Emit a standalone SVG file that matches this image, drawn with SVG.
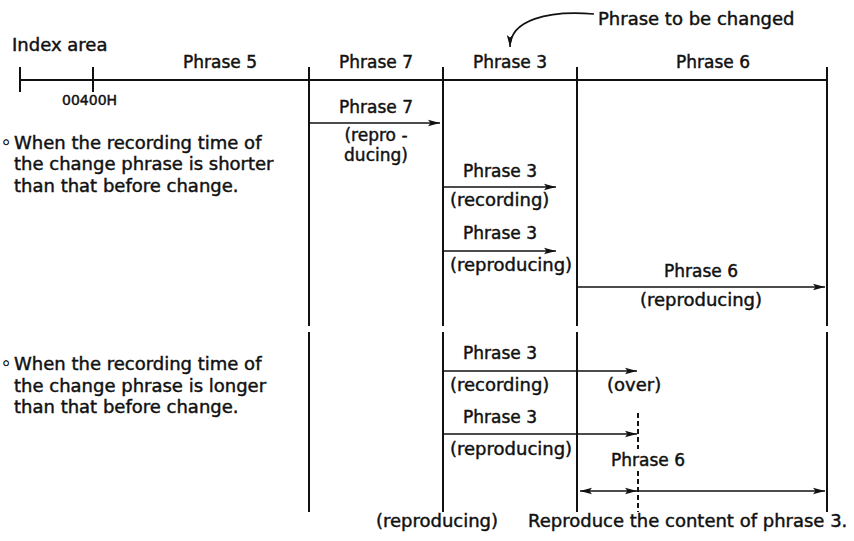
<svg xmlns="http://www.w3.org/2000/svg" width="854" height="541" viewBox="0 0 854 541">
<style>
  text { font-family: "DejaVu Sans", "Liberation Sans", sans-serif; font-size: 18px; fill: #111; stroke: #111; stroke-width: 0.45; }
  .ph { font-size: 17px; text-anchor: middle; }
  .mid { text-anchor: middle; }
  .tight { font-size: 17px; text-anchor: middle; }
  .small { font-size: 14px; }
  .axis { stroke: #111; stroke-width: 2; fill: none; }
  .arr { stroke: #111; stroke-width: 1.6; fill: none; marker-end: url(#ah); }
  .dash { stroke: #111; stroke-width: 2; stroke-dasharray: 5 3; fill: none; }
</style>
<defs>
  <marker id="ah" viewBox="0 0 12 8" refX="12" refY="4" markerWidth="12" markerHeight="8" markerUnits="userSpaceOnUse" orient="auto-start-reverse">
    <path d="M0,0.8 L12,4 L0,7.2 L2.5,4 z" fill="#111"/>
  </marker>
</defs>
<rect width="854" height="541" fill="#fff"/>

<g id="axis">
  <line class="axis" x1="20" y1="80" x2="827" y2="80"/>
  <line class="axis" x1="20" y1="67" x2="20" y2="92"/>
  <line class="axis" x1="93" y1="67" x2="93" y2="92"/>
  <path class="axis" d="M309,67 V326 M309,332 V512"/>
  <path class="axis" d="M443,67 V326 M443,332 V512"/>
  <path class="axis" d="M577,67 V326 M577,332 V512"/>
  <path class="axis" d="M827,67 V326 M827,332 V512"/>
</g>

<g id="header-labels">
  <text x="12" y="51">Index area</text>
  <text class="ph" x="220" y="68">Phrase 5</text>
  <text class="ph" x="376" y="68">Phrase 7</text>
  <text class="ph" x="510" y="68">Phrase 3</text>
  <text class="ph" x="713" y="68">Phrase 6</text>
  <text class="small" x="62" y="105">00400H</text>
  <text x="598" y="25">Phrase to be changed</text>
</g>

<g id="case-shorter">
  <text x="1" y="149">◦<tspan x="14">When the recording time of</tspan></text>
  <text x="14" y="170">the change phrase is shorter</text>
  <text x="14" y="192">than that before change.</text>
  <text class="ph" x="376" y="113">Phrase 7</text>
  <text class="tight" x="376" y="141">(repro -</text>
  <text class="tight" x="376" y="161">ducing)</text>
  <text class="ph" x="500" y="177">Phrase 3</text>
  <text x="450" y="206">(recording)</text>
  <text class="ph" x="500" y="239">Phrase 3</text>
  <text x="450" y="271">(reproducing)</text>
  <text class="ph" x="701" y="277">Phrase 6</text>
  <text class="mid" x="701" y="306">(reproducing)</text>
</g>

<g id="case-longer">
  <text x="1" y="370">◦<tspan x="14">When the recording time of</tspan></text>
  <text x="14" y="392">the change phrase is longer</text>
  <text x="14" y="413">than that before change.</text>
  <text class="ph" x="500" y="359">Phrase 3</text>
  <text x="450" y="391">(recording)</text>
  <text x="607" y="391">(over)</text>
  <text class="ph" x="500" y="423">Phrase 3</text>
  <text x="450" y="455">(reproducing)</text>
  <text class="ph" x="648" y="466">Phrase 6</text>
  <text class="mid" x="437" y="527">(reproducing)</text>
  <text x="528" y="527">Reproduce the content of phrase 3.</text>
</g>

<g id="connectors">
  <path class="arr" d="M594,14 C548,10 510,20 510,47"/>
  <line class="arr" x1="309" y1="123" x2="440" y2="123"/>
  <line class="arr" x1="443" y1="187" x2="556" y2="187"/>
  <line class="arr" x1="443" y1="251" x2="556" y2="251"/>
  <line class="arr" x1="577" y1="287" x2="825" y2="287"/>
  <line class="arr" x1="443" y1="371" x2="637" y2="371"/>
  <line class="arr" x1="443" y1="434" x2="637" y2="434"/>
  <line class="arr" x1="580" y1="491" x2="637" y2="491" style="marker-start:url(#ah)"/>
  <line class="arr" x1="638" y1="491" x2="825" y2="491"/>
  <path class="dash" d="M638,413 V449 M638,471 V512"/>
</g>
</svg>
